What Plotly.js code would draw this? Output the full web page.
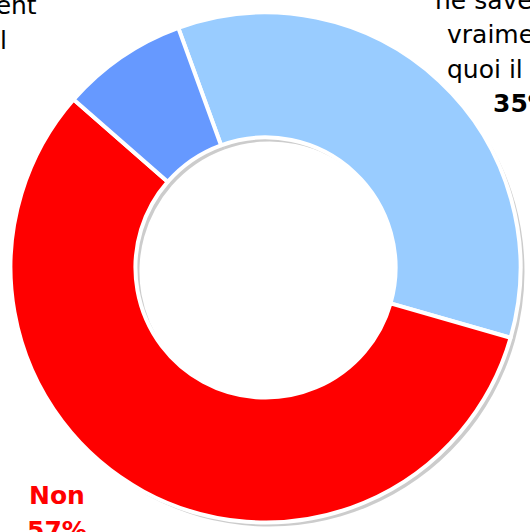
<!DOCTYPE html>
<html>
<head>
<meta charset="utf-8">
<script src="https://cdn.plot.ly/plotly-3.0.1.min.js"></script>
<style>html,body{margin:0;padding:0;background:#fff;}#chart{width:530px;height:532px;}</style>
</head>
<body>
<div id="chart"></div>
<script>
// Data
var labels = ["Oui, mais ne savent pas vraiment de quoi il s'agit", "Non", "Oui, et savent de quoi il s'agit"];
var values = [35, 57, 8];
var colors = ["#99CCFF", "#FF0000", "#6699FF"];
var pctLabels = ["35%", "57%", "8%"];

var W = 530, H = 532;
function px(x) { return x / W; }
function py(y) { return 1 - y / H; }

var cx = 265.5, cy = 267.5, R = 255;
var dom = {x: [px(cx - R), px(cx + R)], y: [py(cy + R), py(cy - R)]};
var off = 4;
var domShadow = {x: [px(cx - R + off), px(cx + R + off)], y: [py(cy + R + off), py(cy - R + off)]};

var shadow = {
  type: "pie",
  labels: labels.map(function (l) { return l + " (ombre)"; }),
  values: values,
  hole: 0.51,
  sort: false,
  direction: "clockwise",
  rotation: -20,
  domain: domShadow,
  textinfo: "none",
  hoverinfo: "skip",
  showlegend: false,
  marker: {colors: values.map(function () { return "rgba(0,0,0,0.2)"; }), line: {width: 0}}
};

var donut = {
  type: "pie",
  labels: labels,
  values: values,
  hole: 0.51,
  sort: false,
  direction: "clockwise",
  rotation: -20,
  domain: dom,
  textinfo: "none",
  showlegend: false,
  marker: {colors: colors, line: {color: "#ffffff", width: 4}}
};

var font = "DejaVu Sans";
var annotations = [];
function addLines(lines, cxp, baselines, color) {
  lines.forEach(function (t, i) {
    annotations.push({
      xref: "paper", yref: "paper", x: px(cxp), y: py(baselines[i] - 8),
      xanchor: "center", yanchor: "middle", showarrow: false,
      text: t, font: {family: font, size: 25, color: color}
    });
  });
}
addLines(["Oui, mais", "ne savent pas", "vraiment de", "quoi il s'agit", "<b>" + pctLabels[0] + "</b>"],
  523, [-26, 9, 43, 77, 111], "#000000");
addLines(["Oui, et savent", "de quoi il", "s'agit", "<b>" + pctLabels[2] + "</b>"],
  -51, [13, 48, 83, 118], "#000000");
addLines(["<b>" + labels[1] + "</b>", "<b>" + pctLabels[1] + "</b>"],
  57, [503, 538], "#FF0000");

var layout = {
  width: W, height: H,
  margin: {l: 0, r: 0, t: 0, b: 0},
  paper_bgcolor: "#ffffff",
  showlegend: false,
  annotations: annotations
};

Plotly.newPlot("chart", [shadow, donut], layout, {displayModeBar: false, staticPlot: true});
</script>
</body>
</html>
